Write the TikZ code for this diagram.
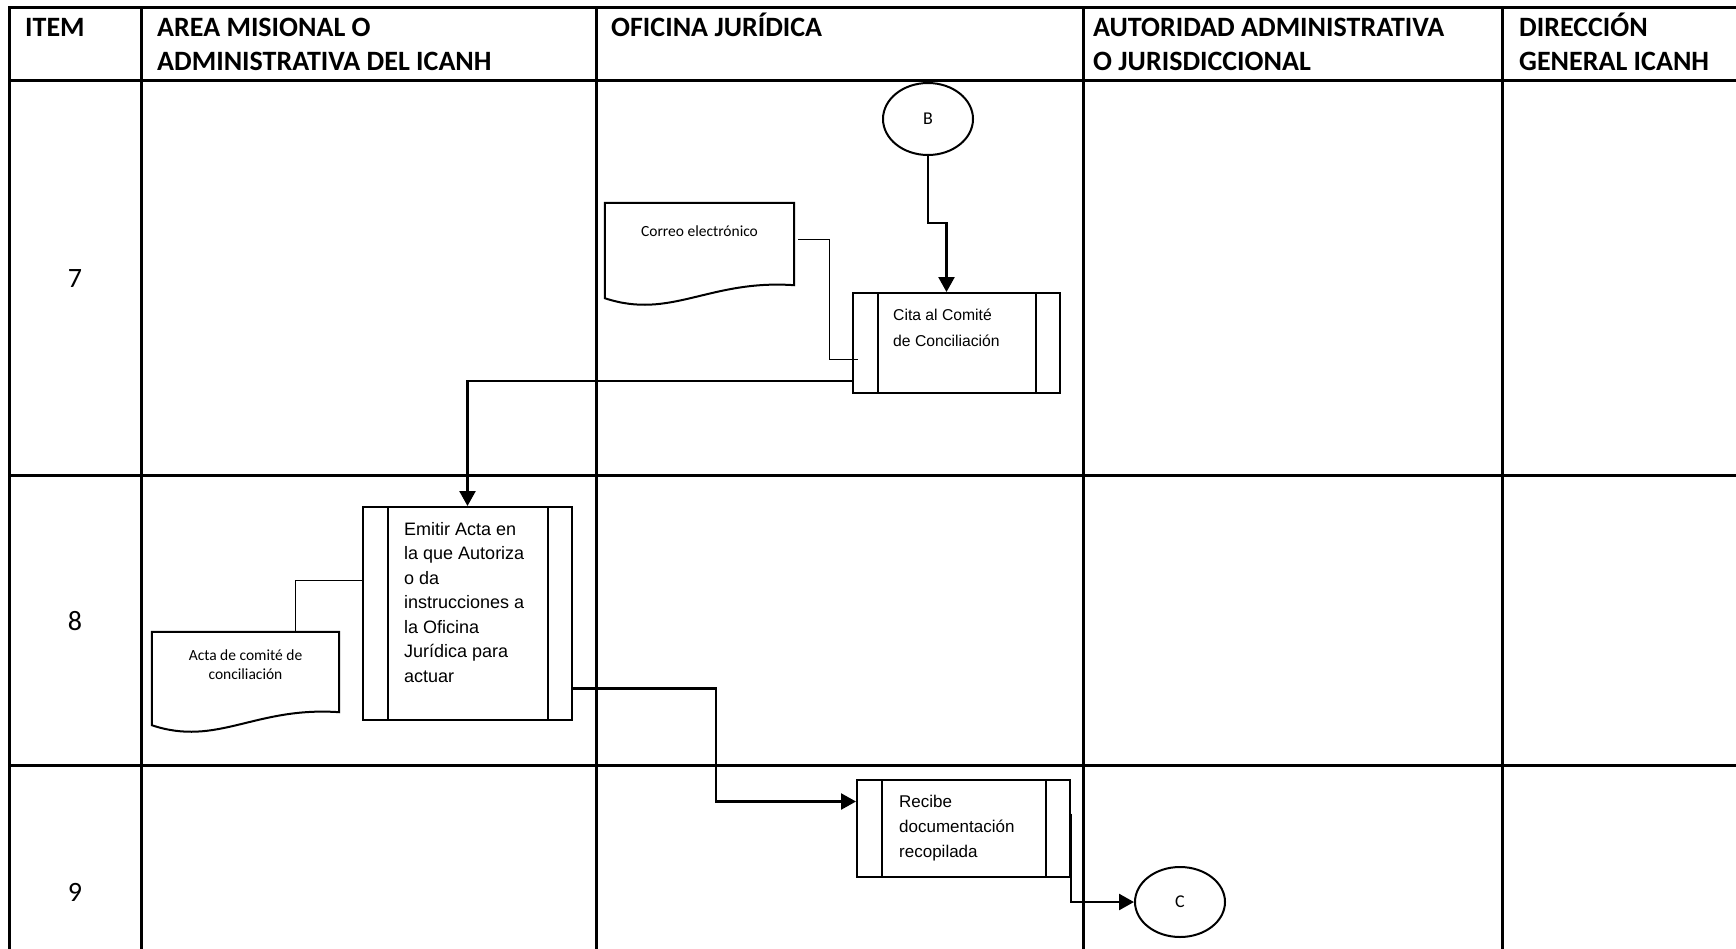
\documentclass[tikz,border=0pt]{standalone}
\usepackage{fontspec}
\setmainfont{Carlito}
\newfontfamily\arialFont{Liberation Sans}
\usepackage{tikz}
\usetikzlibrary{positioning, calc, arrows.meta, shapes.geometric}
\tikzstyle{flowSheet} = [x = 1pt, y = -1pt]
\tikzstyle{gridLine} = [color=black, line width=3pt, line cap=rect]
\tikzstyle{headerText} = [font=\bfseries\fontsize{28}{34}\selectfont, anchor=base west, align=left, inner sep=0pt]
\tikzstyle{itemText} = [font=\fontsize{28}{34}\selectfont]
\tikzstyle{processBox} = [draw, line width=2pt, rectangle, inner sep=0pt]
\tikzstyle{processSide} = [line width=1.5pt]
\tikzstyle{processText} = [align=left, inner sep=0pt]
\tikzstyle{docFrame} = [rectangle, inner sep=0pt]
\tikzstyle{docLine} = [line width=2pt, line join=miter]
\tikzstyle{docText} = [font=\fontsize{15.5}{19}\selectfont, align=center, inner sep=0pt]
\tikzstyle{connectorCircle} = [draw, ellipse, line width=2pt, minimum width=90pt, font=\fontsize{18}{22}\selectfont]
\tikzstyle{flowArrow} = [line width=2.5pt, -{Triangle[width=16pt, length=15pt]}]
\tikzstyle{thinLink} = [line width=1pt]
\newcommand{\processSides}[1]{
  \draw [processSide] ($(#1.north west) + (26,0)$) -- ($(#1.south west) + (26,0)$);
  \draw [processSide] ($(#1.north east) + (-25,0)$) -- ($(#1.south east) + (-25,0)$);
}
\newcommand{\documentOutline}[1]{
  \draw [docLine] (#1.north west) -- (#1.north east) -- (#1.south east)
    .. controls ($(#1.south west)!0.55!(#1.south east) + (0,-6)$) and ($(#1.south west)!0.35!(#1.south east) + (0,35)$) .. ($(#1.south west) + (0,13)$) -- cycle;
}

\begin{document}
\begin{tikzpicture}[flowSheet]
  \useasboundingbox (0,0) rectangle (1736,948);
  \fill [white] (0,0) rectangle (1736,948);
  \clip (0,0) rectangle (1736,948);

  % table
  \foreach \colX in {9,141,596,1083,1502} {
    \draw [gridLine] (\colX,7) -- (\colX,970);
  }
  \foreach \rowY in {7,80,475,765} {
    \draw [gridLine] (9,\rowY) -- (1760,\rowY);
  }
  % two-line headers sit on the baseline of their last line
  \node [headerText] (itemHead) at (25,36) {ITEM};
  \node [headerText] (areaHead) at (157,70) {AREA MISIONAL O\\ADMINISTRATIVA DEL ICANH};
  \node [headerText] (oficinaHead) at (611,36) {OFICINA JURÍDICA};
  \node [headerText] (autoridadHead) at (1093,70) {AUTORIDAD ADMINISTRATIVA\\O JURISDICCIONAL};
  \node [headerText] (direccionHead) at (1519,70) {DIRECCIÓN\\GENERAL ICANH};
  \node [itemText] (rowSeven) at (75,279) {7};
  \node [itemText] (rowEight) at (75,621) {8};
  \node [itemText] (rowNine) at (75,892) {9};

  % step 7
  \node [connectorCircle, minimum height=72pt] (circB) at (928,119) {B};
  \node [processBox, minimum width=207pt, minimum height=100pt] (cita) at (956.5,343) {};
  \processSides{cita}
  \node [processText, font=\arialFont\fontsize{15.7}{26}\selectfont, below right=17pt and 41pt of cita.north west] (citaText) {Cita al Comité\\de Conciliación};
  \node [docFrame, minimum width=189pt, minimum height=82pt] (correo) at (699.5,244) {};
  \documentOutline{correo}
  \node [docText, below=23pt of correo.north] (correoText) {Correo electrónico};

  % step 8
  \node [processBox, minimum width=209pt, minimum height=213pt] (emitir) at (467.5,613.5) {};
  \processSides{emitir}
  \node [processText, font=\arialFont\fontsize{18}{24.5}\selectfont, below right=16pt and 42pt of emitir.north west] (emitirText) {Emitir Acta en\\la que Autoriza\\o da\\instrucciones a\\la Oficina\\Jurídica para\\actuar};
  \node [docFrame, minimum width=187pt, minimum height=80pt] (acta) at (245.5,672) {};
  \documentOutline{acta}
  \node [docText, below=18pt of acta.north] (actaText) {Acta de comité de\\conciliación};

  % step 9
  \node [processBox, minimum width=213pt, minimum height=97pt] (recibe) at (963.5,828.5) {};
  \processSides{recibe}
  \node [processText, font=\arialFont\fontsize{17}{25}\selectfont, below right=16pt and 43pt of recibe.north west] (recibeText) {Recibe\\documentación\\recopilada};
  \node [connectorCircle, minimum height=70pt] (circC) at (1180,902) {C};

  % connectors
  \draw [flowArrow] (circB.south) -- ++(0,67) -| ($(cita.north) + (-10,0)$);
  \draw [thinLink] ($(correo.east) + (4,-5)$) -- ++(31,0) |- ($(cita.west) + (6,16)$);
  \draw [flowArrow] ($(cita.south west) + (0,-13)$) -| (emitir.north);
  \draw [thinLink] ($(acta.north) + (50,0)$) |- ($(emitir.west) + (0,-33)$);
  \draw [flowArrow] ($(emitir.east) + (0,75)$) -- ++(143,0) |- ($(recibe.west) + (0,-27)$);
  \draw [flowArrow] ($(recibe.east) + (0,-15)$) |- (circC.west);
\end{tikzpicture}
\end{document}
